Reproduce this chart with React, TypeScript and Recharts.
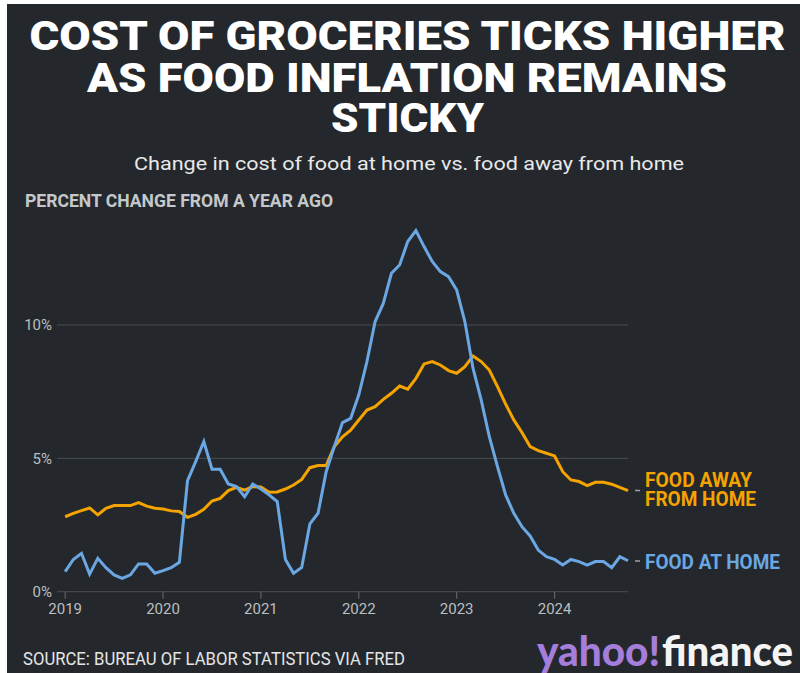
import React from 'react';
import { LineChart, Line, XAxis, YAxis, CartesianGrid } from 'recharts';

// Month index 0 = Jan 2019 ... 69 = Oct 2024
const yearTicks = [0, 12, 24, 36, 48, 60];
const yearLabels = ['2019', '2020', '2021', '2022', '2023', '2024'];
const yTicks = [0, 5, 10];

const foodAtHome = [
  0.75, 1.21, 1.44, 0.66, 1.25, 0.9, 0.63, 0.5, 0.63, 1.04, 1.04, 0.69,
  0.79, 0.9, 1.1, 4.16, 4.88, 5.63, 4.59, 4.59, 4.04, 3.94, 3.56, 4.04,
  3.85, 3.63, 3.38, 1.21, 0.69, 0.91, 2.54, 2.94, 4.5, 5.45, 6.34, 6.5,
  7.38, 8.63, 10.13, 10.81, 11.94, 12.25, 13.13, 13.54, 12.94, 12.38, 12.0, 11.81,
  11.31, 10.13, 8.38, 7.19, 5.81, 4.69, 3.63, 2.94, 2.44, 2.09, 1.56, 1.31,
  1.21, 1.0, 1.21, 1.13, 1.0, 1.13, 1.13, 0.9, 1.31, 1.16,
];

const foodAwayFromHome = [
  2.81, 2.94, 3.04, 3.14, 2.88, 3.13, 3.23, 3.23, 3.23, 3.34, 3.21, 3.13,
  3.1, 3.03, 3.01, 2.79, 2.9, 3.09, 3.4, 3.5, 3.79, 3.91, 3.81, 3.94,
  3.93, 3.73, 3.74, 3.85, 4.0, 4.21, 4.65, 4.73, 4.73, 5.44, 5.81, 6.06,
  6.44, 6.81, 6.94, 7.21, 7.44, 7.71, 7.59, 8.0, 8.54, 8.63, 8.5, 8.29,
  8.19, 8.44, 8.84, 8.63, 8.31, 7.69, 7.03, 6.44, 5.97, 5.44, 5.29, 5.19,
  5.09, 4.5, 4.19, 4.13, 3.98, 4.1, 4.1, 4.03, 3.91, 3.79,
];

const data = foodAtHome.map((v, i) => ({ m: i, home: v, away: foodAwayFromHome[i] }));

const BG = '#24282c';
const ORANGE = '#f5a300';
const BLUE = '#6aa7e3';
const GRID = '#4a4d52';
const TICK = '#bcbec1';
const FONT = 'Roboto, "Noto Sans", sans-serif';

export default function App() {
  return (
    <div style={{ position: 'absolute', left: 0, top: 0, width: 800, height: 673, background: '#ffffff', overflow: 'hidden' }}>
      <div style={{ position: 'absolute', left: 7, top: 4, width: 793, height: 669, background: BG }} />
      <div style={{ position: 'absolute', left: 0, top: 0 }}>
        <LineChart width={800} height={673} data={data} margin={{ top: 218.3, right: 172, bottom: 0, left: 0 }}>
          <CartesianGrid horizontal vertical={false} horizontalValues={yTicks} stroke={GRID} strokeWidth={1} />
          <XAxis
            dataKey="m"
            type="number"
            domain={[-1, 69]}
            ticks={yearTicks}
            tickFormatter={(v: number) => yearLabels[yearTicks.indexOf(v)]}
            axisLine={false}
            tickLine={{ stroke: '#6a6d71' }}
            tickSize={7}
            tickMargin={5}
            height={81.3}
            tick={{ fill: TICK, fontSize: 15, fontFamily: FONT }}
            interval={0}
          />
          <YAxis
            type="number"
            domain={[0, 14]}
            ticks={yTicks}
            tickFormatter={(v: number) => `${v}%`}
            axisLine={false}
            tickLine={false}
            tickSize={0}
            tickMargin={5}
            width={57}
            tick={{ fill: TICK, fontSize: 15, fontFamily: FONT }}
            interval={0}
          />
          <Line type="linear" dataKey="away" stroke={ORANGE} strokeWidth={3} dot={false} isAnimationActive={false} />
          <Line type="linear" dataKey="home" stroke={BLUE} strokeWidth={3} dot={false} isAnimationActive={false} />
        </LineChart>
      </div>
      <svg width={800} height={673} style={{ position: 'absolute', left: 0, top: 0, pointerEvents: 'none' }}>
        <g fontFamily={FONT} fontWeight={900} fill="#ffffff" fontSize={41.5}>
          <text x={29.5} y={49.5} textLength={756} lengthAdjust="spacingAndGlyphs">COST OF GROCERIES TICKS HIGHER</text>
          <text x={87} y={91.5} textLength={640} lengthAdjust="spacingAndGlyphs">AS FOOD INFLATION REMAINS</text>
          <text x={331} y={132} textLength={153} lengthAdjust="spacingAndGlyphs">STICKY</text>
        </g>
        <text x={134} y={170} fontFamily={FONT} fontSize={19} fill="#e8e9ea" textLength={550} lengthAdjust="spacingAndGlyphs">
          Change in cost of food at home vs. food away from home
        </text>
        <text x={25} y={206.7} fontFamily={FONT} fontWeight={700} fontSize={18.5} fill="#c5c8cb" textLength={308} lengthAdjust="spacingAndGlyphs">
          PERCENT CHANGE FROM A YEAR AGO
        </text>
        <line x1={635} x2={640} y1={490.5} y2={490.5} stroke="#a0a2a5" strokeWidth={1.5} />
        <line x1={635} x2={640} y1={561} y2={561} stroke="#a0a2a5" strokeWidth={1.5} />
        <g fontFamily={FONT} fontWeight={700} fontSize={19.5}>
          <text x={645} y={487} fill={ORANGE} textLength={107} lengthAdjust="spacingAndGlyphs">FOOD AWAY</text>
          <text x={645} y={506} fill={ORANGE} textLength={111} lengthAdjust="spacingAndGlyphs">FROM HOME</text>
          <text x={645} y={569} fill={BLUE} textLength={135} lengthAdjust="spacingAndGlyphs">FOOD AT HOME</text>
        </g>
        <text x={23} y={665} fontFamily={FONT} fontSize={19} fill="#e4e5e6" textLength={382} lengthAdjust="spacingAndGlyphs">
          SOURCE: BUREAU OF LABOR STATISTICS VIA FRED
        </text>
        <g fontFamily='Lato, Roboto, sans-serif' fontWeight={900} fontSize={41}>
          <text x={537} y={666} fill="#a57ddb" textLength={123} lengthAdjust="spacingAndGlyphs">yahoo!</text>
          <text x={662} y={666} fill="#f4f4f5" textLength={131} lengthAdjust="spacingAndGlyphs">finance</text>
        </g>
      </svg>
    </div>
  );
}
